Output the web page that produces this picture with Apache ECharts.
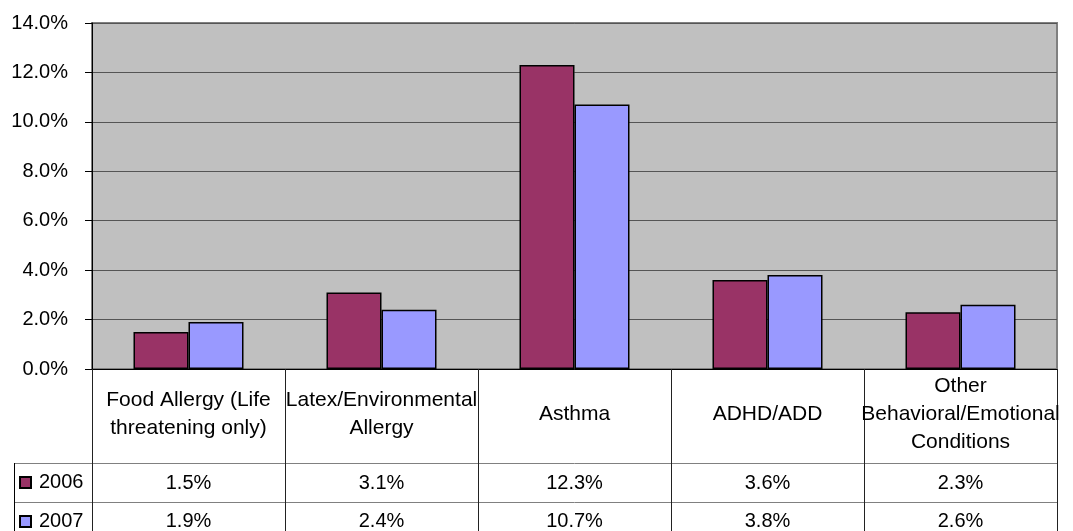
<!DOCTYPE html>
<html>
<head>
<meta charset="utf-8">
<script src="https://cdn.jsdelivr.net/npm/echarts@6/dist/echarts.min.js"></script>
<style>
html,body{margin:0;padding:0;background:#fff;}
#chart{width:1073px;height:531px;}
</style>
</head>
<body>
<div id="chart"></div>
<script>
const categories = [
  'Food Allergy (Life\nthreatening only)',
  'Latex/Environmental\nAllergy',
  'Asthma',
  'ADHD/ADD',
  'Other\nBehavioral/Emotional\nConditions'
];
const seriesNames = ['2006', '2007'];
const values2006 = [1.5, 3.1, 12.3, 3.6, 2.3];
const values2007 = [1.9, 2.4, 10.7, 3.8, 2.6];
const yTicks = [0, 2, 4, 6, 8, 10, 12, 14];

const FONT = '"Liberation Sans", Arial, sans-serif';
const fmt = v => v.toFixed(1) + '%';

const chart = echarts.init(document.getElementById('chart'), null, {renderer: 'canvas'});

const valueRowAxis = (offset, margin, vals) => ({
  type: 'category',
  data: categories,
  position: 'bottom',
  offset: offset,
  axisLine: {show: true, lineStyle: {color: '#808080', width: 1}},
  axisTick: {show: false},
  splitLine: {show: false},
  axisLabel: {
    interval: 0,
    margin: margin,
    verticalAlign: 'middle',
    fontFamily: FONT,
    fontSize: 20,
    color: '#000',
    formatter: (val, idx) => fmt(vals[idx])
  }
});

chart.setOption({
  animation: false,
  backgroundColor: '#fff',
  textStyle: {fontFamily: FONT},
  grid: {
    left: 92, right: 16, top: 23, bottom: 162,
    show: true,
    backgroundColor: '#C0C0C0',
    borderColor: '#808080',
    borderWidth: 2
  },
  legend: {
    orient: 'vertical',
    left: 19,
    top: 463,
    height: 100,
    padding: 0,
    itemGap: 0,
    itemWidth: 11,
    itemHeight: 11,
    icon: 'rect',
    data: seriesNames,
    textStyle: {fontFamily: FONT, fontSize: 20, color: '#000', lineHeight: 39, padding: [0, 0, 0, 3]}
  },
  xAxis: [
    {
      type: 'category',
      data: categories,
      position: 'bottom',
      axisLine: {show: true, lineStyle: {color: '#000', width: 1}},
      axisTick: {show: true, length: 171, interval: 0, lineStyle: {color: '#222', width: 1}},
      splitLine: {show: false},
      axisLabel: {
        interval: 0,
        margin: 45,
        verticalAlign: 'middle',
        fontFamily: FONT,
        fontSize: 21,
        lineHeight: 28,
        color: '#000'
      }
    },
    valueRowAxis(94, 20, values2006),
    valueRowAxis(133, 19, values2007)
  ],
  yAxis: {
    type: 'value',
    min: yTicks[0],
    max: yTicks[yTicks.length - 1],
    interval: 2,
    axisLine: {show: true, lineStyle: {color: '#000', width: 1}},
    axisTick: {show: true, length: 7, lineStyle: {color: '#000'}},
    splitLine: {show: true, lineStyle: {color: '#555', width: 1}},
    axisLabel: {
      margin: 24,
      fontFamily: FONT,
      fontSize: 20,
      color: '#000',
      formatter: v => fmt(v)
    }
  },
  series: [
    {
      name: seriesNames[0],
      type: 'bar',
      xAxisIndex: 0,
      data: values2006,
      barGap: '0%',
      barCategoryGap: '43%',
      itemStyle: {color: '#993366', borderColor: '#000', borderWidth: 1.5}
    },
    {
      name: seriesNames[1],
      type: 'bar',
      xAxisIndex: 0,
      data: values2007,
      barGap: '0%',
      barCategoryGap: '43%',
      itemStyle: {color: '#9999FF', borderColor: '#000', borderWidth: 1.5}
    }
  ],
  graphic: [
    {type: 'line', shape: {x1: 14, y1: 463.5, x2: 92, y2: 463.5}, style: {stroke: '#808080', lineWidth: 1}},
    {type: 'line', shape: {x1: 14, y1: 502.5, x2: 92, y2: 502.5}, style: {stroke: '#808080', lineWidth: 1}},
    {type: 'line', shape: {x1: 14.5, y1: 463, x2: 14.5, y2: 531}, style: {stroke: '#000', lineWidth: 1}}
  ]
});
</script>
</body>
</html>
